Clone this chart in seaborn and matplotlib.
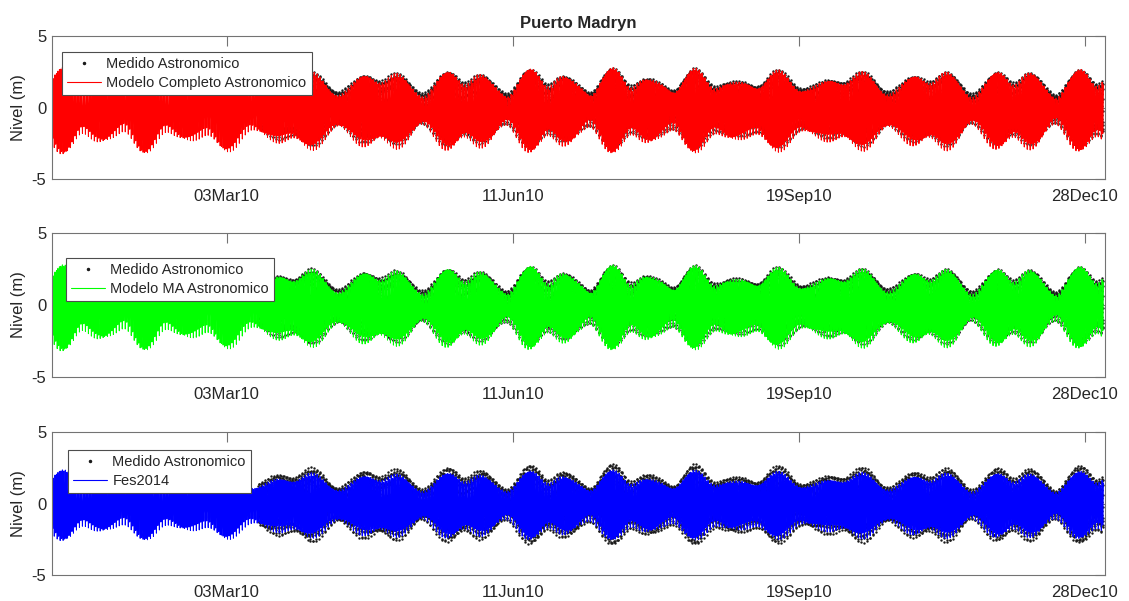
import numpy as np
import pandas as pd
import matplotlib
matplotlib.use("Agg")
import matplotlib.pyplot as plt
import matplotlib.dates as mdates
from matplotlib.lines import Line2D
import seaborn as sns

# Tidal constituents used to rebuild the astronomical series
const_names = ["M2", "S2", "N2", "K2", "K1", "O1", "M4"]
const_freq = [1.9322736, 2.0, 1.8959820, 2.0054758, 1.0027379, 0.9295357, 3.8645472]  # cycles/day
const_phase = [0.0, 85.3, -65.3, 92.2, 40.0, 100.0, 200.0]  # deg, relative to 01Jan2010 00:00

# amplitudes (m)
amp_medido = [1.80, 0.46, 0.42, 0.12, 0.10, 0.16, 0.04]
amp_completo = [1.84, 0.54, 0.46, 0.14, 0.11, 0.17, 0.10]
amp_ma = [1.82, 0.53, 0.46, 0.14, 0.11, 0.17, 0.09]
amp_fes = [1.60, 0.38, 0.36, 0.10, 0.10, 0.15, 0.06]
mean_level = {"medido": 0.0, "completo": -0.12, "ma": -0.10, "fes": -0.05}

start = pd.Timestamp("2010-01-01")
model_days = (0.0, 367.5)
medido_days = (72.0, 367.5)
tick_dates = ["2010-03-03", "2010-06-11", "2010-09-19", "2010-12-28"]

panels = [
    ("Modelo Completo Astronomico", amp_completo, "completo", "#ff0000"),
    ("Modelo MA Astronomico", amp_ma, "ma", "#00ff00"),
    ("Fes2014", amp_fes, "fes", "#0000ff"),
]


def tide(days, amps, z0):
    eta = np.full(days.shape, z0)
    for a, f, ph in zip(amps, const_freq, const_phase):
        eta += a * np.cos(2 * np.pi * f * days - np.deg2rad(ph))
    return eta


def series(span, amps, z0, per_hour=1):
    days = np.arange(span[0] * 24 * per_hour, span[1] * 24 * per_hour) / (24.0 * per_hour)
    return pd.DataFrame({"fecha": start + pd.to_timedelta(days, unit="D"),
                         "nivel": tide(days, amps, z0)})


medido = series(medido_days, amp_medido, mean_level["medido"])

sns.set_theme(style="white")
plt.rcParams["font.family"] = ["Liberation Sans", "DejaVu Sans"]
plt.rcParams["axes.unicode_minus"] = False

fig = plt.figure(figsize=(11.29, 6.01), dpi=100)
W, H = 1129, 601
boxes = [(36, 179), (233, 377), (432, 575)]
leg_offsets = [(10, 16), (14, 25), (16, 18)]

for i, ((label, amps, key, color), (top, bot), (lx, ly)) in enumerate(zip(panels, boxes, leg_offsets)):
    ax = fig.add_axes([52 / W, 1 - bot / H, (1105 - 52) / W, (bot - top) / H])
    model = series(model_days, amps, mean_level[key], per_hour=3)

    sns.scatterplot(data=medido, x="fecha", y="nivel", ax=ax, color="k",
                    s=3, marker="o", linewidth=0, legend=False)
    sns.lineplot(data=model, x="fecha", y="nivel", ax=ax, color=color,
                 lw=0.7, estimator=None, sort=False, errorbar=None, legend=False)

    ax.set_xlim(start, pd.Timestamp("2011-01-04"))
    ax.set_ylim(-5, 5)
    ax.set_yticks([-5, 0, 5])
    ax.set_xticks(pd.to_datetime(tick_dates))
    ax.xaxis.set_major_formatter(mdates.DateFormatter("%d%b%y"))
    ax.set_xlabel("")
    ax.set_ylabel("Nivel (m)", fontsize=12, color="0.15", labelpad=4)
    ax.tick_params(axis="x", direction="in", length=7, width=0.8, top=True,
                   labelsize=12, labelcolor="0.15", color="0.45", pad=7)
    ax.tick_params(axis="y", direction="in", length=7, width=0.8, right=True,
                   labelsize=12, labelcolor="0.15", color="0.45", pad=4)
    for sp in ax.spines.values():
        sp.set_visible(True)
        sp.set_color("0.45")
        sp.set_linewidth(0.8)

    handles = [Line2D([], [], ls="none", marker=".", color="k", ms=3),
               Line2D([], [], color=color, lw=0.8)]
    leg = ax.legend(handles, ["Medido Astronomico", label], loc="upper left",
                    bbox_to_anchor=(lx / 1053, 1 - ly / (bot - top)), borderaxespad=0,
                    fontsize=10.5, fancybox=False, framealpha=1, edgecolor="0.3",
                    handlelength=2.3, handletextpad=0.4, borderpad=0.35, labelspacing=0.35)
    leg.get_frame().set_linewidth(0.8)

    if i == 0:
        ax.set_title("Puerto Madryn", fontsize=12, fontweight="bold", pad=6)

fig.savefig("out.png", dpi=100)
